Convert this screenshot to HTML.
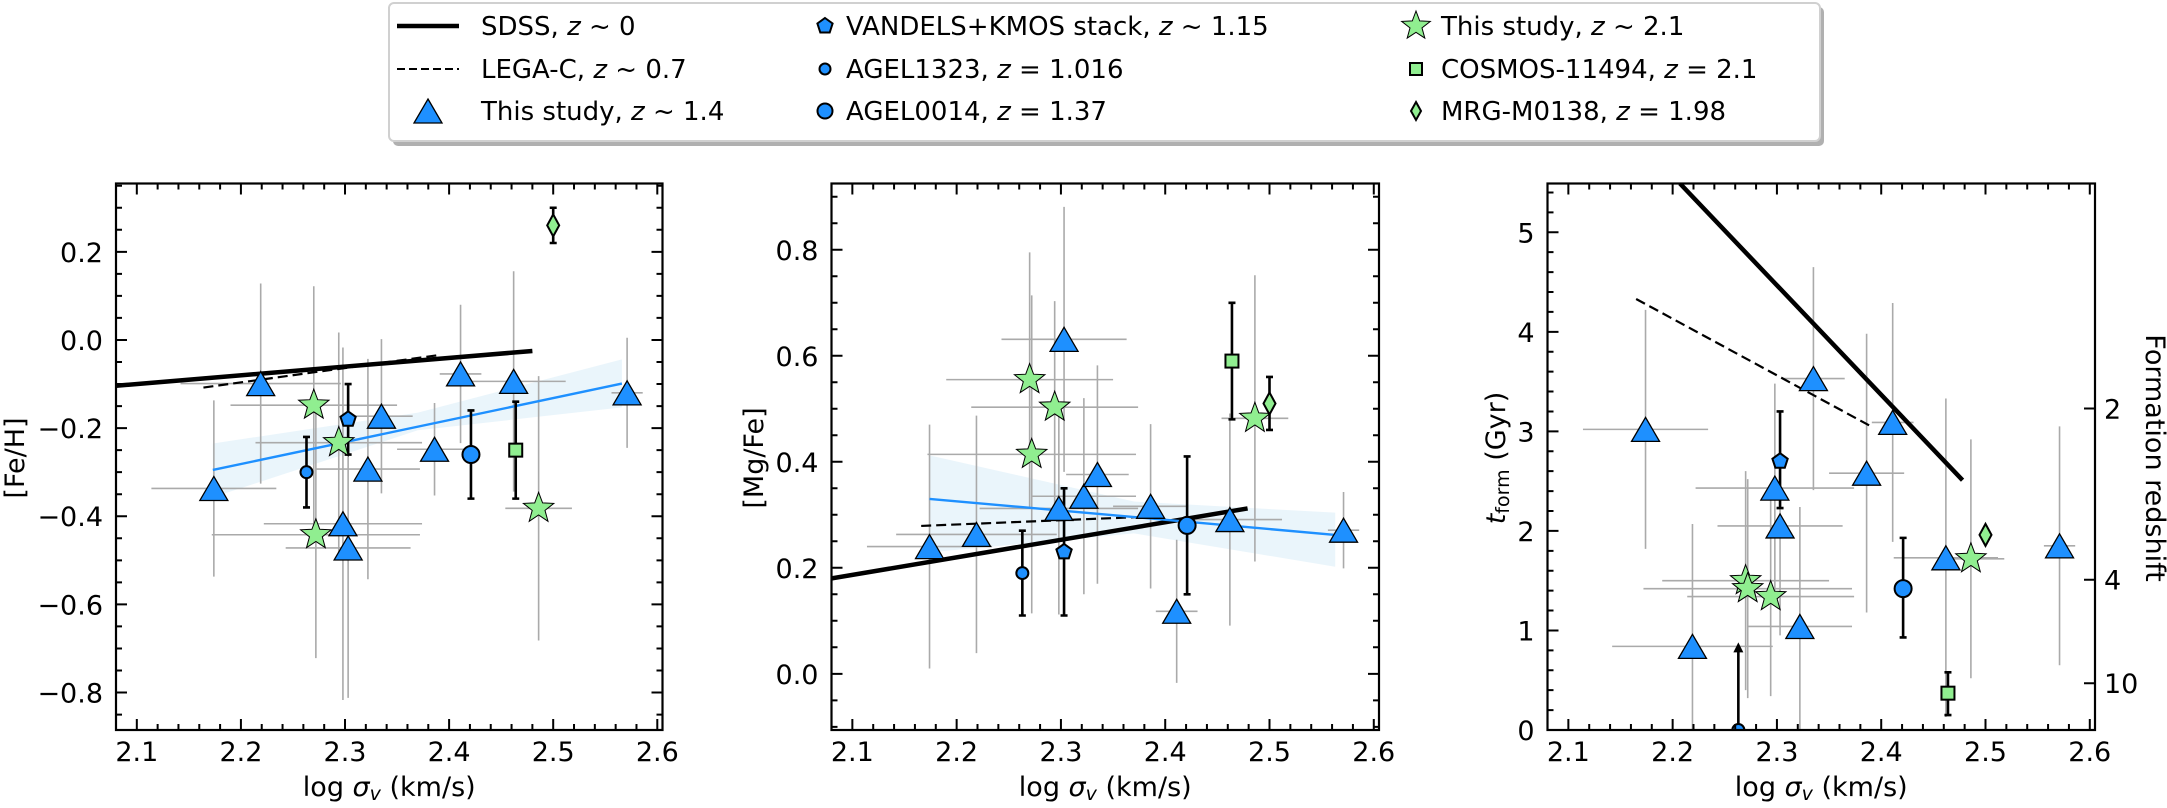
<!DOCTYPE html>
<html><head><meta charset="utf-8">
<style>
html,body{margin:0;padding:0;background:#fff;}
svg{display:block;font-family:"DejaVu Sans","Liberation Sans",sans-serif;}
</style></head>
<body>
<svg id="fig" width="2167" height="808" viewBox="0 0 2167 808" xmlns="http://www.w3.org/2000/svg">
<g id="legend">
  <rect x="393" y="7" width="1431" height="139" rx="5" fill="#b0b0b0"/>
  <rect x="389" y="3" width="1431" height="138" rx="5" fill="#fff" stroke="#d0d0d0" stroke-width="2"/>
</g>
</svg>
<script>
// ---- shared x values (log sigma) ----
const triX = [2.174, 2.219, 2.298, 2.303, 2.322, 2.335, 2.386, 2.411, 2.462, 2.571];
const triXerr = [0.06, 0.077, 0.076, 0.06, 0.05, 0.03, 0.036, 0.02, 0.05, 0.015];
const starX = [2.270, 2.294, 2.272, 2.486];
const starXerr = [0.08, 0.08, 0.1, 0.032];
const agel1323X = 2.263, agel0014X = 2.421, vandelsX = 2.303, cosmosX = 2.464, mrgX = 2.50;

// ---- panel 1: [Fe/H] ----
const feTriY = [-0.337, -0.099, -0.417, -0.472, -0.293, -0.173, -0.248, -0.077, -0.094, -0.120];
const feTriYerr = [0.2, 0.227, 0.40, 0.34, 0.25, 0.175, 0.105, 0.157, 0.25, 0.125];
const feStarY = [-0.148, -0.233, -0.442, -0.382];
const feStarYerr = [0.27, 0.25, 0.28, 0.3];
const feAgel1323 = [-0.30, -0.38, -0.22];
const feAgel0014 = [-0.26, -0.36, -0.16];
const feVandels = [-0.18, -0.26, -0.10];
const feCosmos = [-0.25, -0.36, -0.14];
const feMrg = [0.26, 0.22, 0.30];
const feSdss = [[2.08, -0.104], [2.48, -0.025]];
const feLega = [[2.164, -0.108], [2.391, -0.034]];
const feFit = [[2.173, -0.295], [2.566, -0.099]];
const feBandX = [2.173, 2.37, 2.566];
const feBandLo = [-0.357, -0.205, -0.153];
const feBandHi = [-0.235, -0.165, -0.044];
const feTicks = [-0.8, -0.6, -0.4, -0.2, 0.0, 0.2];
const feTickLabels = ["\u22120.8", "\u22120.6", "\u22120.4", "\u22120.2", "0.0", "0.2"];

// ---- panel 2: [Mg/Fe] ----
const mgTriY = [0.24, 0.263, 0.312, 0.631, 0.335, 0.376, 0.316, 0.118, 0.291, 0.271];
const mgTriYerr = [0.23, 0.224, 0.2, 0.25, 0.185, 0.206, 0.155, 0.135, 0.2, 0.072];
const mgStarY = [0.555, 0.503, 0.414, 0.482];
const mgStarYerr = [0.24, 0.2, 0.3, 0.27];
const mgAgel1323 = [0.19, 0.11, 0.27];
const mgAgel0014 = [0.28, 0.15, 0.41];
const mgVandels = [0.23, 0.11, 0.35];
const mgCosmos = [0.59, 0.48, 0.70];
const mgMrg = [0.51, 0.46, 0.56];
const mgSdss = [[2.08, 0.18], [2.479, 0.312]];
const mgLega = [[2.166, 0.279], [2.39, 0.297]];
const mgFit = [[2.174, 0.330], [2.563, 0.262]];
const mgBandX = [2.174, 2.37, 2.563];
const mgBandLo = [0.229, 0.265, 0.202];
const mgBandHi = [0.412, 0.325, 0.304];
const mgTicks = [0.0, 0.2, 0.4, 0.6, 0.8];
const mgTickLabels = ["0.0", "0.2", "0.4", "0.6", "0.8"];

// ---- panel 3: t_form ----
const tTriY = [3.02, 0.84, 2.43, 2.05, 1.04, 3.53, 2.58, 3.09, 1.73, 1.85];
const tTriYerr = [1.2, 1.23, 1.05, 1.1, 1.2, 1.12, 1.4, 1.2, 1.6, 1.2];
const tStarY = [1.50, 1.34, 1.42, 1.72];
const tStarYerr = [1.1, 1.0, 1.1, 1.2];
const tAgel1323 = [0.0, 0.0, 0.86];
const tAgel0014 = [1.42, 0.93, 1.93];
const tVandels = [2.70, 2.23, 3.2];
const tCosmos = [0.37, 0.15, 0.58];
const tMrg = [1.96, 1.96, 1.96];
const tSdss = [[2.207, 5.49], [2.478, 2.51]];
const tLega = [[2.165, 4.33], [2.392, 3.04]];
const tTicks = [0, 1, 2, 3, 4, 5];
const tTickLabels = ["0", "1", "2", "3", "4", "5"];
const zTicks = [3.23, 1.51, 0.47];
const zTickLabels = ["2", "4", "10"];

const xTicks = [2.1, 2.2, 2.3, 2.4, 2.5, 2.6];
const xTickLabels = ["2.1", "2.2", "2.3", "2.4", "2.5", "2.6"];

const NS = "http://www.w3.org/2000/svg";
const svg = document.getElementById('fig');
function mk(tag, attrs, parent) {
  const e = document.createElementNS(NS, tag);
  for (const k in attrs) e.setAttribute(k, attrs[k]);
  (parent || svg).appendChild(e);
  return e;
}
const BLUE = "#1e90ff", GREEN = "#90ee90", GREY = "#aaaaaa";

function triPath(cx, cy, s) { s = s || 1; return `M${cx},${cy-12*s} L${cx+14*s},${cy+12*s} L${cx-14*s},${cy+12*s} Z`; }
function starPath(cx, cy, R) {
  let d = ""; const r = R * 0.42;
  for (let i = 0; i < 10; i++) {
    const a = -Math.PI/2 + i*Math.PI/5, rr = i%2 ? r : R;
    d += (i ? "L" : "M") + (cx + rr*Math.cos(a)).toFixed(1) + "," + (cy + rr*Math.sin(a)).toFixed(1);
  }
  return d + "Z";
}
function pentPath(cx, cy, R) {
  let d = "";
  for (let i = 0; i < 5; i++) {
    const a = -Math.PI/2 + i*2*Math.PI/5;
    d += (i ? "L" : "M") + (cx + R*Math.cos(a)).toFixed(1) + "," + (cy + R*Math.sin(a)).toFixed(1);
  }
  return d + "Z";
}

function axisLabel(g, x, y, rot, parts, name) {
  const t = mk('text', {x: x, y: y, 'font-size': 27, 'text-anchor': 'middle', 'dominant-baseline': 'middle'}, g);
  
  
  if (rot) t.setAttribute('transform', `rotate(${rot} ${x} ${y})`);
  parts.forEach(p => {
    const ts = mk('tspan', {}, t);
    if (p.it) ts.setAttribute('font-style', 'italic');
    if (p.sub) { ts.setAttribute('font-size', 19); ts.setAttribute('dy', p.dy); }
    if (p.dy0) ts.setAttribute('dy', p.dy0);
    ts.textContent = p.t;
  });
  return t;
}

function panel(cfg) {
  const g = mk('g', {});
  
  
  const L = cfg.L, R = cfg.R, T = 183.5, B = 730;
  const X = v => L + (v - 2.08) / (2.605 - 2.08) * (R - L);
  const Y = v => B - (v - cfg.ymin) / (cfg.ymax - cfg.ymin) * (B - T);
  const clipId = 'clip' + cfg.id;
  const cp = mk('clipPath', {id: clipId}, g);
  mk('rect', {x: L, y: T, width: R - L, height: B - T}, cp);
  const plot = mk('g', {'clip-path': `url(#${clipId})`}, g);
  
  

  // band
  if (cfg.bandX) {
    let d = "";
    cfg.bandX.forEach((x, i) => d += (i ? "L" : "M") + X(x) + "," + Y(cfg.bandHi[i]));
    for (let i = cfg.bandX.length - 1; i >= 0; i--) d += "L" + X(cfg.bandX[i]) + "," + Y(cfg.bandLo[i]);
    const b = mk('path', {d: d + "Z", fill: "#e6f3fa", opacity: 0.85}, plot);
    
    
  }
  // grey error bars: triangles
  triX.forEach((x, i) => {
    const e = mk('path', {d: `M${X(x - triXerr[i])},${Y(cfg.triY[i])}H${X(x + triXerr[i])}M${X(x)},${Y(cfg.triY[i] - cfg.triYerr[i])}V${Y(cfg.triY[i] + cfg.triYerr[i])}`, stroke: GREY, 'stroke-width': 1.6, fill: 'none'}, plot);
    
    
  });
  starX.forEach((x, i) => {
    const e = mk('path', {d: `M${X(x - starXerr[i])},${Y(cfg.starY[i])}H${X(x + starXerr[i])}M${X(x)},${Y(cfg.starY[i] - cfg.starYerr[i])}V${Y(cfg.starY[i] + cfg.starYerr[i])}`, stroke: GREY, 'stroke-width': 1.6, fill: 'none'}, plot);
    
    
  });
  // lines
  const sd = mk('line', {x1: X(cfg.sdss[0][0]), y1: Y(cfg.sdss[0][1]), x2: X(cfg.sdss[1][0]), y2: Y(cfg.sdss[1][1]), stroke: '#000', 'stroke-width': 4.5}, plot);
  
  
  const lg = mk('line', {x1: X(cfg.lega[0][0]), y1: Y(cfg.lega[0][1]), x2: X(cfg.lega[1][0]), y2: Y(cfg.lega[1][1]), stroke: '#000', 'stroke-width': 2.2, 'stroke-dasharray': '10,5'}, plot);
  
  
  if (cfg.fit) {
    const f = mk('line', {x1: X(cfg.fit[0][0]), y1: Y(cfg.fit[0][1]), x2: X(cfg.fit[1][0]), y2: Y(cfg.fit[1][1]), stroke: BLUE, 'stroke-width': 2.4}, plot);
    
    
  }
  // black error bars
  function blackErr(x, v, name) {
    const y0 = Y(v[1]), y1 = Y(v[2]);
    const e = mk('path', {d: `M${X(x)},${y0}V${y1}M${X(x)-3.5},${y0}h7M${X(x)-3.5},${y1}h7`, stroke: '#000', 'stroke-width': 2.6, fill: 'none'}, plot);
    
    
  }
  if (cfg.upperArrow) {
    const x = X(agel1323X), y0 = Y(cfg.a1323[0]), y1 = Y(cfg.a1323[2]);
    const a = mk('path', {d: `M${x},${y0}V${y1 + 6}`, stroke: '#000', 'stroke-width': 2.6}, plot);
    
    
    const h = mk('path', {d: `M${x - 5},${y1 + 8}L${x},${y1 - 2}L${x + 5},${y1 + 8}Z`, fill: '#000'}, plot);
    
    
  } else blackErr(agel1323X, cfg.a1323, 'agel1323-error-bar');
  blackErr(agel0014X, cfg.a0014, 'agel0014-error-bar');
  blackErr(vandelsX, cfg.vand, 'vandels-error-bar');
  blackErr(cosmosX, cfg.cosm, 'cosmos-error-bar');
  if (cfg.mrg[1] !== cfg.mrg[2]) blackErr(mrgX, cfg.mrg, 'mrg-error-bar');

  // markers
  triX.forEach((x, i) => {
    const m = mk('path', {d: triPath(X(x), Y(cfg.triY[i])), fill: BLUE, stroke: '#000', 'stroke-width': 1.3}, plot);
    
    
  });
  starX.forEach((x, i) => {
    const m = mk('path', {d: starPath(X(x), Y(cfg.starY[i]), 16), fill: GREEN, stroke: '#000', 'stroke-width': 1}, plot);
    
    
  });
  let m = mk('circle', {cx: X(agel1323X), cy: Y(cfg.a1323[0]), r: 6, fill: BLUE, stroke: '#000', 'stroke-width': 2}, plot);
  
  
  m = mk('circle', {cx: X(agel0014X), cy: Y(cfg.a0014[0]), r: 8.5, fill: BLUE, stroke: '#000', 'stroke-width': 2}, plot);
  
  
  m = mk('path', {d: pentPath(X(vandelsX), Y(cfg.vand[0]), 8), fill: BLUE, stroke: '#000', 'stroke-width': 2}, plot);
  
  
  m = mk('rect', {x: X(cosmosX) - 6.5, y: Y(cfg.cosm[0]) - 6.5, width: 13, height: 13, fill: GREEN, stroke: '#000', 'stroke-width': 2}, plot);
  
  
  const mx = X(mrgX), my = Y(cfg.mrg[0]);
  m = mk('path', {d: `M${mx},${my - 11}L${mx + 6},${my}L${mx},${my + 11}L${mx - 6},${my}Z`, fill: GREEN, stroke: '#000', 'stroke-width': 2}, plot);
  
  

  // frame
  const fr = mk('rect', {x: L, y: T, width: R - L, height: B - T, fill: 'none', stroke: '#000', 'stroke-width': 2.2}, g);
  
  
  // x ticks
  let td = "";
  for (let k = 0; k <= 26; k++) {
    const v = 2.08 + k * 0.02; if (v > 2.605) break;
    const major = Math.abs((v * 10) - Math.round(v * 10)) < 1e-6;
    const len = major ? 11 : 6;
    td += `M${X(v)},${B}v${-len}M${X(v)},${T}v${len}`;
  }
  // y ticks
  for (let v = cfg.ymin; v <= cfg.ymax + 1e-9; v += 1e-3) {}
  const minorStep = cfg.minor;
  let start = Math.ceil(cfg.ymin / minorStep - 1e-6);
  for (let k = start; k * minorStep <= cfg.ymax + 1e-9; k++) {
    const v = k * minorStep;
    const major = cfg.ticks.some(t => Math.abs(t - v) < 1e-6);
    const len = major ? 11 : 6;
    td += `M${L},${Y(v)}h${len}`;
    if (!cfg.rightZ) td += `M${R},${Y(v)}h${-len}`;
  }
  if (cfg.rightZ) zTicks.forEach(t => td += `M${R},${Y(t)}h-11`);
  const tk = mk('path', {d: td, stroke: '#000', 'stroke-width': 2, fill: 'none'}, g);
  
  

  xTicks.forEach((v, i) => {
    const t = mk('text', {x: X(v), y: 761, 'font-size': 27, 'text-anchor': 'middle'}, g);
    
    
    t.textContent = xTickLabels[i];
  });
  cfg.ticks.forEach((v, i) => {
    const t = mk('text', {x: L - 13, y: Y(v) + 10, 'font-size': 27, 'text-anchor': 'end'}, g);
    
    
    t.textContent = cfg.tickLabels[i];
  });
  if (cfg.rightZ) zTicks.forEach((v, i) => {
    const t = mk('text', {x: R + 9, y: Y(v) + 10, 'font-size': 27, 'text-anchor': 'start'}, g);
    
    
    t.textContent = zTickLabels[i];
  });
  axisLabel(g, (L + R) / 2, 788, 0, [{t: 'log '}, {t: '\u03c3', it: 1}, {t: 'v', it: 1, sub: 1, dy: 6}, {t: ' (km/s)', dy0: -6}], 'x-axis-title');
  if (cfg.ylabelParts) axisLabel(g, cfg.ylx, 458, -90, cfg.ylabelParts, 'y-axis-title');
  if (cfg.rightZ) axisLabel(g, 2154, 458, 90, [{t: 'Formation redshift'}], 'right-y-axis-title');
  return g;
}

panel({id: 'feh', name: 'feh-panel', L: 116, R: 662.5, ymin: -0.885, ymax: 0.355, minor: 0.05, ticks: feTicks, tickLabels: feTickLabels,
  triY: feTriY, triYerr: feTriYerr, starY: feStarY, starYerr: feStarYerr, a1323: feAgel1323, a0014: feAgel0014, vand: feVandels, cosm: feCosmos, mrg: feMrg,
  sdss: feSdss, lega: feLega, fit: feFit, bandX: feBandX, bandLo: feBandLo, bandHi: feBandHi, ylx: 16, ylabelParts: [{t: '[Fe/H]'}]});
panel({id: 'mgfe', name: 'mgfe-panel', L: 831.5, R: 1379, ymin: -0.106, ymax: 0.925, minor: 0.05, ticks: mgTicks, tickLabels: mgTickLabels,
  triY: mgTriY, triYerr: mgTriYerr, starY: mgStarY, starYerr: mgStarYerr, a1323: mgAgel1323, a0014: mgAgel0014, vand: mgVandels, cosm: mgCosmos, mrg: mgMrg,
  sdss: mgSdss, lega: mgLega, fit: mgFit, bandX: mgBandX, bandLo: mgBandLo, bandHi: mgBandHi, ylx: 755, ylabelParts: [{t: '[Mg/Fe]'}]});
panel({id: 'tform', name: 'tform-panel', L: 1547.5, R: 2095, ymin: 0, ymax: 5.49, minor: 0.2, ticks: tTicks, tickLabels: tTickLabels,
  triY: tTriY, triYerr: tTriYerr, starY: tStarY, starYerr: tStarYerr, a1323: tAgel1323, a0014: tAgel0014, vand: tVandels, cosm: tCosmos, mrg: tMrg,
  sdss: tSdss, lega: tLega, upperArrow: true, rightZ: true, ylx: 1497,
  ylabelParts: [{t: 't', it: 1}, {t: 'form', sub: 1, dy: 6}, {t: ' (Gyr)', dy0: -6}]});

// ---- legend ----
const leg = document.getElementById('legend');
const rows = [26, 69, 111];
function legText(x, y, parts, name) {
  const t = mk('text', {x: x, y: y + 9, 'font-size': 26}, leg);
  
  
  parts.forEach(p => { const s = mk('tspan', {}, t); if (p.it) s.setAttribute('font-style', 'italic'); s.textContent = p.t; });
}
let e = mk('line', {x1: 397, y1: rows[0], x2: 459, y2: rows[0], stroke: '#000', 'stroke-width': 4.5}, leg);
 
e = mk('line', {x1: 397, y1: rows[1], x2: 459, y2: rows[1], stroke: '#000', 'stroke-width': 2, 'stroke-dasharray': '8,4'}, leg);
 
e = mk('path', {d: triPath(428, rows[2]), fill: BLUE, stroke: '#000', 'stroke-width': 1.3}, leg);
 
legText(481, rows[0], [{t: 'SDSS, '}, {t: 'z', it: 1}, {t: ' ~ 0'}], 'legend-sdss');
legText(481, rows[1], [{t: 'LEGA-C, '}, {t: 'z', it: 1}, {t: ' ~ 0.7'}], 'legend-lega-c');
legText(481, rows[2], [{t: 'This study, '}, {t: 'z', it: 1}, {t: ' ~ 1.4'}], 'legend-this-study-z14');
e = mk('path', {d: pentPath(825, rows[0], 8), fill: BLUE, stroke: '#000', 'stroke-width': 2}, leg);
 
e = mk('circle', {cx: 825, cy: rows[1], r: 5.5, fill: BLUE, stroke: '#000', 'stroke-width': 2}, leg);
 
e = mk('circle', {cx: 825, cy: rows[2], r: 7.5, fill: BLUE, stroke: '#000', 'stroke-width': 2}, leg);
 
legText(846, rows[0], [{t: 'VANDELS+KMOS stack, '}, {t: 'z', it: 1}, {t: ' ~ 1.15'}], 'legend-vandels');
legText(846, rows[1], [{t: 'AGEL1323, '}, {t: 'z', it: 1}, {t: ' = 1.016'}], 'legend-agel1323');
legText(846, rows[2], [{t: 'AGEL0014, '}, {t: 'z', it: 1}, {t: ' = 1.37'}], 'legend-agel0014');
e = mk('path', {d: starPath(1416, rows[0], 15), fill: GREEN, stroke: '#000', 'stroke-width': 1}, leg);
 
e = mk('rect', {x: 1410, y: rows[1] - 6, width: 12, height: 12, fill: GREEN, stroke: '#000', 'stroke-width': 2}, leg);
 
e = mk('path', {d: `M1416,${rows[2] - 9}L1421,${rows[2]}L1416,${rows[2] + 9}L1411,${rows[2]}Z`, fill: GREEN, stroke: '#000', 'stroke-width': 2}, leg);
 
legText(1441, rows[0], [{t: 'This study, '}, {t: 'z', it: 1}, {t: ' ~ 2.1'}], 'legend-this-study-z21');
legText(1441, rows[1], [{t: 'COSMOS-11494, '}, {t: 'z', it: 1}, {t: ' = 2.1'}], 'legend-cosmos');
legText(1441, rows[2], [{t: 'MRG-M0138, '}, {t: 'z', it: 1}, {t: ' = 1.98'}], 'legend-mrg');
</script>
</body></html>
